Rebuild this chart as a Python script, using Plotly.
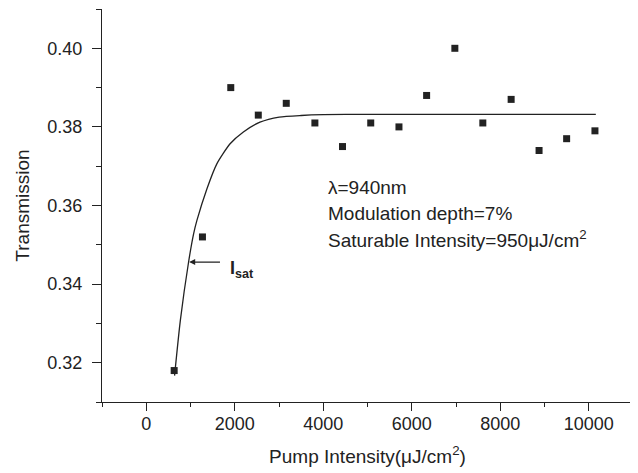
import plotly.graph_objects as go

# measured points
pump_intensity = [631, 1270, 1910, 2532, 3164, 3811, 4435, 5073, 5711, 6336,
                  6974, 7606, 8246, 8877, 9500, 10140]
transmission = [0.318, 0.352, 0.390, 0.383, 0.386, 0.381, 0.375, 0.381, 0.380, 0.388,
                0.400, 0.381, 0.387, 0.374, 0.377, 0.379]

# fitted curve
fit_x = [640, 770, 955, 1070, 1145, 1370, 1595, 1895, 2195, 2570, 3005, 3500,
         4000, 5000, 6000, 7000, 8000, 9000, 10160]
fit_y = [0.3167, 0.3307, 0.3455, 0.3528, 0.3562, 0.3642, 0.3706, 0.3757, 0.3787,
         0.3812, 0.3825, 0.3829, 0.3831, 0.3832, 0.3832, 0.3832, 0.3832, 0.3832, 0.3832]

info_lines = ["λ=940nm", "Modulation depth=7%", "Saturable Intensity=950μJ/cm<sup>2</sup>"]

FONT = "Liberation Sans, Arial, sans-serif"
INK = "#222222"

fig = go.Figure()
fig.add_trace(go.Scatter(x=fit_x, y=fit_y, mode="lines",
                         line=dict(color=INK, width=1.3, shape="spline", smoothing=0.6),
                         showlegend=False, hoverinfo="skip"))
fig.add_trace(go.Scatter(x=pump_intensity, y=transmission, mode="markers",
                         marker=dict(symbol="square", size=7, color=INK),
                         showlegend=False))

# text block
for i, line in enumerate(info_lines):
    fig.add_annotation(x=4060, y=0.3645 - i * 0.0065, xref="x", yref="y",
                       text=line, showarrow=False, xanchor="left", yanchor="middle",
                       font=dict(family=FONT, size=19, color=INK))

# I_sat arrow
fig.add_annotation(x=970, y=0.3456, ax=1700, ay=0.3456, axref="x", ayref="y",
                   xref="x", yref="y", text="", showarrow=True,
                   arrowhead=2, arrowsize=1, arrowwidth=1.2, arrowcolor=INK)
fig.add_annotation(x=1850, y=0.3438, xref="x", yref="y",
                   text="<b>I</b><sub><b>sat</b></sub>", showarrow=False,
                   xanchor="left", yanchor="middle",
                   font=dict(family=FONT, size=18, color=INK))

# page body has an 8px margin, so the figure is 8px smaller than the window
fig.update_layout(
    width=630, height=465,
    margin=dict(l=94, r=5, t=1, b=71),
    plot_bgcolor="white", paper_bgcolor="white",
    font=dict(family=FONT, size=18, color=INK),
)
fig.update_xaxes(
    range=[-1000, 11000], dtick=2000, tick0=0, tickformat="d",
    showline=True, linecolor=INK, linewidth=1.3,
    ticks="outside", ticklen=8, tickwidth=1.3, tickcolor=INK,
    ticklabelstandoff=-3,
    minor=dict(ticks="outside", dtick=1000, tick0=0, ticklen=4, tickwidth=1.3, tickcolor=INK),
    showgrid=False, zeroline=False,
    title=dict(text="Pump Intensity(μJ/cm<sup>2</sup>)", standoff=16,
               font=dict(family=FONT, size=19, color=INK)),
)
fig.update_yaxes(
    range=[0.31, 0.41], dtick=0.02, tick0=0.32, tickformat=".2f",
    showline=True, linecolor=INK, linewidth=1.3,
    ticks="outside", ticklen=9, tickwidth=1.3, tickcolor=INK,
    ticklabelstandoff=6,
    minor=dict(ticks="outside", dtick=0.01, tick0=0.31, ticklen=5, tickwidth=1.3, tickcolor=INK),
    showgrid=False, zeroline=False,
    title=dict(text="Transmission", standoff=12,
               font=dict(family=FONT, size=19, color=INK)),
)

fig.write_html("out.html")
